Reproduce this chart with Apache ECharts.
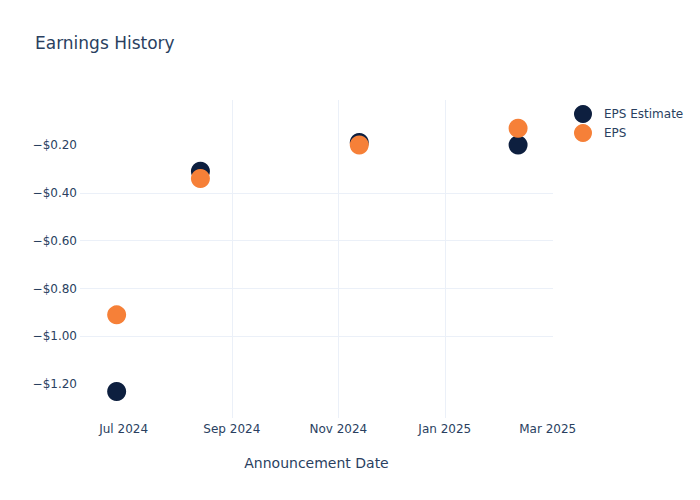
<!DOCTYPE html>
<html>
<head>
<meta charset="utf-8">
<script src="https://cdn.jsdelivr.net/npm/echarts@6/dist/echarts.min.js"></script>
<style>
html,body{margin:0;padding:0;background:#fff;}
#chart{width:700px;height:500px;}
</style>
</head>
<body>
<div id="chart"></div>
<script>
const dates = ['2024-06-27', '2024-08-14', '2024-11-13', '2025-02-12'];
const epsEstimate = [-1.23, -0.31, -0.19, -0.20];
const eps = [-0.91, -0.34, -0.20, -0.13];
const xTicks = ['2024-07-01', '2024-09-01', '2024-11-01', '2025-01-01', '2025-03-01'];
const yTicks = [-1.2, -1.0, -0.8, -0.6, -0.4, -0.2];
const monthNames = ['Jan','Feb','Mar','Apr','May','Jun','Jul','Aug','Sep','Oct','Nov','Dec'];

const FONT = '"DejaVu Sans", Verdana, sans-serif';
const TXT = '#2a3f5f';
const GRID = '#ebf0f8';

const toTs = d => new Date(d + 'T00:00:00Z').getTime();
const xTickVals = xTicks.map(toTs);

const chart = echarts.init(document.getElementById('chart'), null, {renderer: 'svg'});
chart.setOption({
  backgroundColor: '#fff',
  animation: false,
  textStyle: {fontFamily: FONT},
  title: {
    text: 'Earnings History',
    left: 35, top: 34, padding: 0,
    textStyle: {fontFamily: FONT, fontSize: 17, fontWeight: 'normal', color: TXT}
  },
  legend: {
    orient: 'vertical',
    left: 574, top: 105, padding: 0,
    itemWidth: 18, itemHeight: 18, itemGap: 1,
    icon: 'circle',
    textStyle: {fontFamily: FONT, fontSize: 12, color: TXT, padding: [0, 0, 0, 7]},
    data: ['EPS Estimate', 'EPS']
  },
  grid: {left: 80, right: 147, top: 100, bottom: 82, containLabel: false},
  xAxis: {
    type: 'value',
    min: toTs('2024-06-06'),
    max: toTs('2025-03-04'),
    name: 'Announcement Date',
    nameLocation: 'middle',
    nameGap: 38,
    nameTextStyle: {fontFamily: FONT, fontSize: 14, color: TXT},
    axisLine: {show: false},
    axisTick: {show: false, customValues: xTickVals},
    axisLabel: {
      customValues: xTickVals,
      fontFamily: FONT, fontSize: 12, color: TXT, margin: 5,
      formatter: v => { const d = new Date(v); return monthNames[d.getUTCMonth()] + ' ' + d.getUTCFullYear(); }
    },
    splitLine: {show: true, showMinLine: false, showMaxLine: false, lineStyle: {color: GRID, width: 1}}
  },
  yAxis: {
    type: 'value',
    min: -1.341,
    max: -0.012,
    axisLine: {show: false},
    axisTick: {show: false, customValues: yTicks},
    axisLabel: {
      customValues: yTicks,
      fontFamily: FONT, fontSize: 12, color: TXT, margin: 3,
      formatter: v => (v < 0 ? '\u2212' : '') + '$' + Math.abs(v).toFixed(2)
    },
    splitLine: {show: true, showMinLine: false, showMaxLine: false, lineStyle: {color: GRID, width: 1}}
  },
  series: [
    {
      name: 'EPS Estimate', type: 'scatter', symbolSize: 19,
      itemStyle: {color: '#0d1f3f', opacity: 1},
      data: dates.map((d, i) => [toTs(d), epsEstimate[i]])
    },
    {
      name: 'EPS', type: 'scatter', symbolSize: 19,
      itemStyle: {color: '#f68038', opacity: 1},
      data: dates.map((d, i) => [toTs(d), eps[i]])
    }
  ]
});
</script>
</body>
</html>
